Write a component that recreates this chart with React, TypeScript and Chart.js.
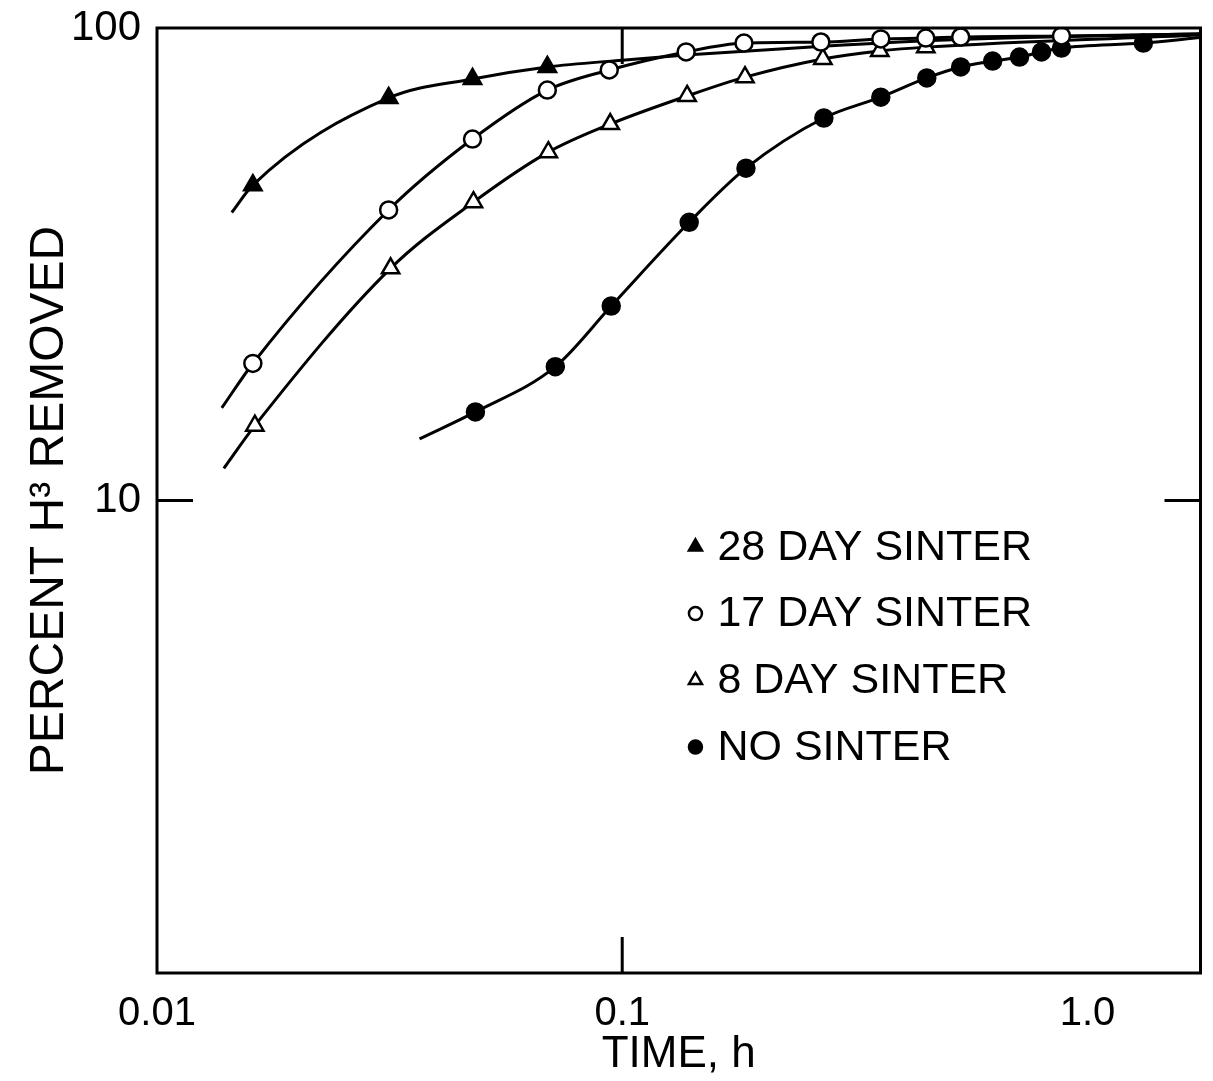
import React, { useEffect, useRef } from 'react';
import { Chart, registerables } from 'chart.js';

Chart.register(...registerables);

// ---- axis ----
const xTickValues = [0.01, 0.1, 1];
const xTickLabels = ['0.01', '0.1', '1.0'];
const yTickValues = [10, 100];
const yTickLabels = ['10', '100'];
const xInnerTicks = [0.1];
const yInnerTicks = [10];
const xMin = 0.01;
const xMax = 1.75;
const yMin = 1;
const yMax = 100;
const xTitle = 'TIME, h';
const yTitle = 'PERCENT H\u00B3 REMOVED';

// ---- series ----
const seriesNames = ['28 DAY SINTER', '17 DAY SINTER', '8 DAY SINTER', 'NO SINTER'];

// 28 day sinter (filled triangles)
const s28Time = [0.01607, 0.03147, 0.04766, 0.06903];
const s28Pct = [46.5, 71.1, 78.0, 82.7];
const s28FitTime = [0.01448, 0.1, 0.137, 0.27, 0.53, 1.75];
const s28FitPct = [40.7, 85.5, 87.7, 91.5, 94.5, 97.2];

// 17 day sinter (open circles)
const s17Time = [0.01607, 0.03147, 0.04766, 0.06903, 0.09378, 0.1372, 0.1827, 0.2673, 0.3596, 0.4493, 0.534, 0.8795];
const s17Pct = [19.5, 41.2, 58.2, 73.9, 81.5, 89.0, 92.9, 93.4, 94.8, 95.2, 95.7, 96.2];
const s17FitTime = [0.01378, 1.75];
const s17FitPct = [15.7, 97.1];

// 8 day sinter (open triangles)
const s8Time = [0.01623, 0.03178, 0.04789, 0.06937, 0.09424, 0.1379, 0.1836, 0.27, 0.3578, 0.4493];
const s8Pct = [14.4, 31.0, 42.8, 54.6, 62.6, 71.8, 78.7, 86.0, 89.4, 91.1];
const s8FitTime = [0.01392, 1.75];
const s8FitPct = [11.7, 96.6];

// no sinter (filled circles)
const s0Time = [0.04836, 0.07181, 0.09471, 0.1393, 0.1845, 0.2713, 0.3596, 0.4515, 0.534, 0.6255, 0.7145, 0.7967, 0.8795, 1.319];
const s0Pct = [15.4, 19.2, 25.8, 38.8, 50.5, 64.5, 71.4, 78.4, 82.7, 85.1, 86.8, 89.0, 90.7, 92.9];
const s0FitTime = [0.03667, 1.75];
const s0FitPct = [13.5, 95.5];

const FONT = "'Liberation Sans', Arial, sans-serif";

function pts(xs: number[], ys: number[]) {
  return xs.map((x, i) => ({ x, y: ys[i] }));
}
function curve(xs: number[], ys: number[], fx: number[], fy: number[]) {
  return [...pts(xs, ys), ...pts(fx, fy)].sort((a, b) => a.x - b.x);
}

type MarkerStyle = { style: string; fill: string };
const markerStyles: MarkerStyle[] = [
  { style: 'triangle', fill: '#000' },
  { style: 'circle', fill: '#fff' },
  { style: 'triangle', fill: '#fff' },
  { style: 'circle', fill: '#000' },
];

function drawMarker(ctx: CanvasRenderingContext2D, m: MarkerStyle, x: number, y: number, r: number) {
  ctx.beginPath();
  if (m.style === 'triangle') {
    for (let k = 0; k < 3; k++) {
      const a = (k * 2 * Math.PI) / 3;
      const px = x + Math.sin(a) * r;
      const py = y - Math.cos(a) * r;
      if (k === 0) ctx.moveTo(px, py);
      else ctx.lineTo(px, py);
    }
    ctx.closePath();
  } else {
    ctx.arc(x, y, r, 0, Math.PI * 2);
  }
  ctx.fillStyle = m.fill;
  ctx.fill();
  ctx.lineWidth = 2.5;
  ctx.strokeStyle = '#000';
  ctx.stroke();
}

const framePlugin = {
  id: 'frameTicks',
  afterDatasetsDraw(chart: any) {
    const { ctx, chartArea, scales } = chart;
    const { left, top, right, bottom } = chartArea;
    ctx.save();
    ctx.strokeStyle = '#000';
    ctx.lineWidth = 3;
    ctx.strokeRect(left, top, right - left, bottom - top);
    const tl = 36;
    ctx.beginPath();
    xInnerTicks.forEach((v) => {
      const px = scales.x.getPixelForValue(v);
      ctx.moveTo(px, bottom);
      ctx.lineTo(px, bottom - tl);
      ctx.moveTo(px, top);
      ctx.lineTo(px, top + tl);
    });
    yInnerTicks.forEach((v) => {
      const py = scales.y.getPixelForValue(v);
      ctx.moveTo(left, py);
      ctx.lineTo(left + tl, py);
      ctx.moveTo(right, py);
      ctx.lineTo(right - tl, py);
    });
    ctx.stroke();
    ctx.restore();
  },
};

const legendPlugin = {
  id: 'inlineLegend',
  afterDraw(chart: any) {
    const { ctx, chartArea } = chart;
    const { left, top, right, bottom } = chartArea;
    const w = right - left;
    const h = bottom - top;
    const mx = left + 0.516 * w;
    const y0 = top + 0.549 * h;
    const step = 0.0706 * h;
    ctx.save();
    ctx.font = `43px ${FONT}`;
    ctx.textBaseline = 'middle';
    ctx.textAlign = 'left';
    seriesNames.forEach((name, i) => {
      const y = y0 + i * step;
      const m = markerStyles[i];
      drawMarker(ctx, m, mx, y, m.style === 'triangle' ? 7.5 : 6.5);
      ctx.fillStyle = '#000';
      ctx.fillText(name, mx + 22, y + 1);
    });
    ctx.restore();
  },
};

export default function App() {
  const canvasRef = useRef<HTMLCanvasElement | null>(null);

  useEffect(() => {
    if (!canvasRef.current) return;
    const all = [
      { t: s28Time, p: s28Pct, ft: s28FitTime, fp: s28FitPct },
      { t: s17Time, p: s17Pct, ft: s17FitTime, fp: s17FitPct },
      { t: s8Time, p: s8Pct, ft: s8FitTime, fp: s8FitPct },
      { t: s0Time, p: s0Pct, ft: s0FitTime, fp: s0FitPct },
    ];
    const datasets: any[] = [];
    all.forEach((s, i) => {
      datasets.push({
        label: seriesNames[i] + ' fit',
        data: curve(s.t, s.p, s.ft, s.fp),
        showLine: true,
        borderColor: '#000',
        borderWidth: 3,
        pointRadius: 0,
        cubicInterpolationMode: 'monotone',
        fill: false,
        order: 2,
      });
    });
    all.forEach((s, i) => {
      const m = markerStyles[i];
      datasets.push({
        label: seriesNames[i],
        data: pts(s.t, s.p),
        showLine: false,
        pointStyle: m.style,
        pointRadius: m.style === 'triangle' ? 10 : 8.5,
        pointBackgroundColor: m.fill,
        pointBorderColor: '#000',
        pointBorderWidth: 2.5,
        order: 1,
      });
    });

    const chart = new Chart(canvasRef.current, {
      type: 'scatter',
      data: { datasets },
      plugins: [framePlugin, legendPlugin],
      options: {
        animation: false,
        responsive: true,
        maintainAspectRatio: false,
        devicePixelRatio: 1,
        layout: { padding: { top: 28, right: 1, left: 0, bottom: 0 } },
        plugins: { legend: { display: false }, tooltip: { enabled: false } },
        scales: {
          x: {
            type: 'logarithmic',
            min: xMin,
            max: xMax,
            afterBuildTicks: (scale: any) => {
              scale.ticks = xTickValues.map((v) => ({ value: v }));
            },
            afterFit: (scale: any) => {
              scale.height = 108;
              scale.paddingLeft = 0;
              scale.paddingRight = 0;
            },
            ticks: {
              autoSkip: false,
              maxRotation: 0,
              minRotation: 0,
              padding: 17,
              color: '#000',
              font: { family: FONT, size: 40 },
              callback: (v: any) => {
                const i = xTickValues.indexOf(Number(v));
                return i >= 0 ? xTickLabels[i] : '';
              },
            },
            grid: { display: true, drawOnChartArea: false, drawTicks: false },
            border: { display: false },
            title: {
              display: true,
              text: xTitle,
              color: '#000',
              font: { family: FONT, size: 44 },
              padding: { top: 0, bottom: 0 },
            },
          },
          y: {
            type: 'logarithmic',
            min: yMin,
            max: yMax,
            afterBuildTicks: (scale: any) => {
              scale.ticks = yTickValues.map((v) => ({ value: v }));
            },
            afterFit: (scale: any) => {
              scale.width = 157;
              scale.paddingTop = 0;
              scale.paddingBottom = 0;
            },
            ticks: {
              autoSkip: false,
              padding: 16,
              color: '#000',
              font: { family: FONT, size: 42 },
              callback: (v: any) => {
                const i = yTickValues.indexOf(Number(v));
                return i >= 0 ? yTickLabels[i] : '';
              },
            },
            grid: { display: true, drawOnChartArea: false, drawTicks: false },
            border: { display: false },
            title: {
              display: true,
              text: yTitle,
              color: '#000',
              font: { family: FONT, size: 48 },
              padding: { top: 21, bottom: 0 },
            },
          },
        },
      },
    });
    return () => chart.destroy();
  }, []);

  return (
    <div style={{ position: 'absolute', left: 0, top: 0, width: 1213, height: 1081, background: '#fff' }}>
      <canvas ref={canvasRef} />
    </div>
  );
}
